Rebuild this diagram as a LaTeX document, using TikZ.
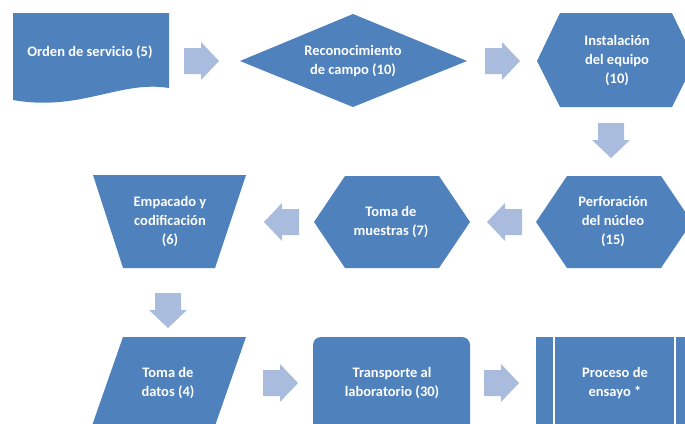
\documentclass[tikz,border=0pt]{standalone}
\usepackage{fontspec}
\setmainfont{Carlito}
\definecolor{boxc}{HTML}{4F81BD}
\definecolor{arrowc}{HTML}{A9BCDD}
\newcommand\blockarrow[4]{%
  \begin{scope}[shift={(#1,#2)},rotate=#3]
    \fill[arrowc] (-17,-13) -- (0,-13) -- (0,-19) -- (18,0) -- (0,19) -- (0,13) -- (-17,13) -- cycle;
    \coordinate (#4) at (0,0);
  \end{scope}}
\begin{document}
\begin{tikzpicture}[x=1pt,y=-1pt,
  lbl/.style={align=center,text=white,font=\fontsize{14.5}{19}\selectfont\bfseries,inner sep=0pt},
  shp/.style={fill=boxc,draw=none}]
\useasboundingbox (0,0) rectangle (685,423);
\clip (0,0) rectangle (685,423);
% shapes
\fill[boxc] (13,13) -- (169,13) -- (169,88) .. controls (120,80) and (80,112) .. (13,100) -- cycle;
\fill[boxc] (240,61) -- (353,14) -- (467,61) -- (353,107) -- cycle;
\fill[boxc] (537,61) -- (560,13) -- (672,13) -- (695,61) -- (672,107) -- (560,107) -- cycle;
\fill[boxc] (536,222) -- (567,176) -- (661,176) -- (692,222) -- (661,268) -- (567,268) -- cycle;
\fill[boxc] (314,222) -- (345,176) -- (439,176) -- (470,222) -- (439,268) -- (345,268) -- cycle;
\fill[boxc] (93,175) -- (246,175) -- (215,268) -- (123,268) -- cycle;
\fill[boxc] (123,337) -- (246,337) -- (210,440) -- (87,440) -- cycle;
\fill[boxc,rounded corners=8pt] (313,337) rectangle (470,440);
\fill[boxc] (536,337) rectangle (693,440);
\draw[white,line width=1.5pt] (554,337) -- (554,440) (675,337) -- (675,440);
% labels
\node[lbl] (orden) at (90,52) {Orden de servicio (5)};
\node[lbl] (recon) at (353,61) {Reconocimiento\\de campo (10)};
\node[lbl] (inst) at (617,61) {Instalación\\del equipo\\(10)};
\node[lbl] (perf) at (613,222) {Perforación\\del núcleo\\(15)};
\node[lbl] (toma) at (391,222) {Toma de\\muestras (7)};
\node[lbl] (emp) at (170,222) {Empacado y\\codificación\\(6)};
\node[lbl] (datos) at (168,383) {Toma de\\datos (4)};
\node[lbl] (trans) at (392,383) {Transporte al\\laboratorio (30)};
\node[lbl] (proc) at (615,383) {Proceso de\\ensayo *};
% block arrows
\blockarrow{201}{61}{0}{a1}
\blockarrow{502}{61}{0}{a2}
\blockarrow{611}{140}{-90}{a3}
\blockarrow{505}{222}{180}{a4}
\blockarrow{282}{222}{180}{a5}
\blockarrow{168}{310}{-90}{a6}
\blockarrow{280}{383}{0}{a7}
\blockarrow{501}{383}{0}{a8}
\end{tikzpicture}
\end{document}
